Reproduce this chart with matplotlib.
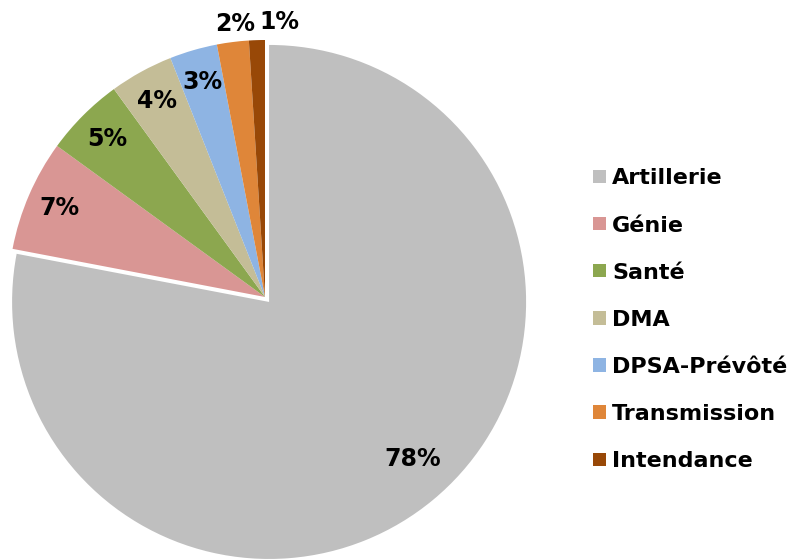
import numpy as np
import matplotlib.pyplot as plt

# share of each service (%)
services = ['Artillerie', 'Génie', 'Santé', 'DMA', 'DPSA-Prévôté',
            'Transmission', 'Intendance']
shares = [78, 7, 5, 4, 3, 2, 1]
colors = ['#BFBFBF', '#D99694', '#8CA74F', '#C4BD97', '#8EB4E3',
          '#DF8639', '#984807']

fig = plt.figure(figsize=(8.01, 5.59), dpi=100)
ax = fig.add_axes([0, 0, 1, 1])

wedges, texts, autotexts = ax.pie(
    shares, colors=colors, startangle=90, counterclock=False,
    explode=[0.025, 0, 0, 0, 0, 0, 0], radius=1,
    autopct='%1.0f%%', pctdistance=0.87,
    wedgeprops=dict(linewidth=0),
    textprops=dict(fontsize=17, fontweight='bold', color='black'))

# the two thin slices get their label outside the pie
for i, dx in [(5, 0.02), (6, 0.09)]:
    w = wedges[i]
    mid = np.deg2rad((w.theta1 + w.theta2) / 2)
    autotexts[i].set_position((1.08 * np.cos(mid) + dx, 1.07 * np.sin(mid)))

# big slice label sits a bit lower
w = wedges[0]
mid = np.deg2rad((w.theta1 + w.theta2) / 2)
autotexts[0].set_position((0.025 * np.cos(mid) + 0.83 * np.cos(mid + 0.05),
                           0.025 * np.sin(mid) + 0.83 * np.sin(mid + 0.05)))

ax.set_xlim(-265 / 257, (801 - 265) / 257)
ax.set_ylim(-262 / 257, (559 - 262) / 257)
ax.set_aspect('equal', adjustable='box')
ax.axis('off')

leg = fig.legend(wedges, services, loc='center left',
                 bbox_to_anchor=(0.727, 0.428), frameon=False,
                 prop=dict(size=16, weight='bold'),
                 handlelength=0.55, handleheight=0.55,
                 handletextpad=0.3, labelspacing=1.22, borderpad=0)

fig.savefig('out.png', dpi=100)
